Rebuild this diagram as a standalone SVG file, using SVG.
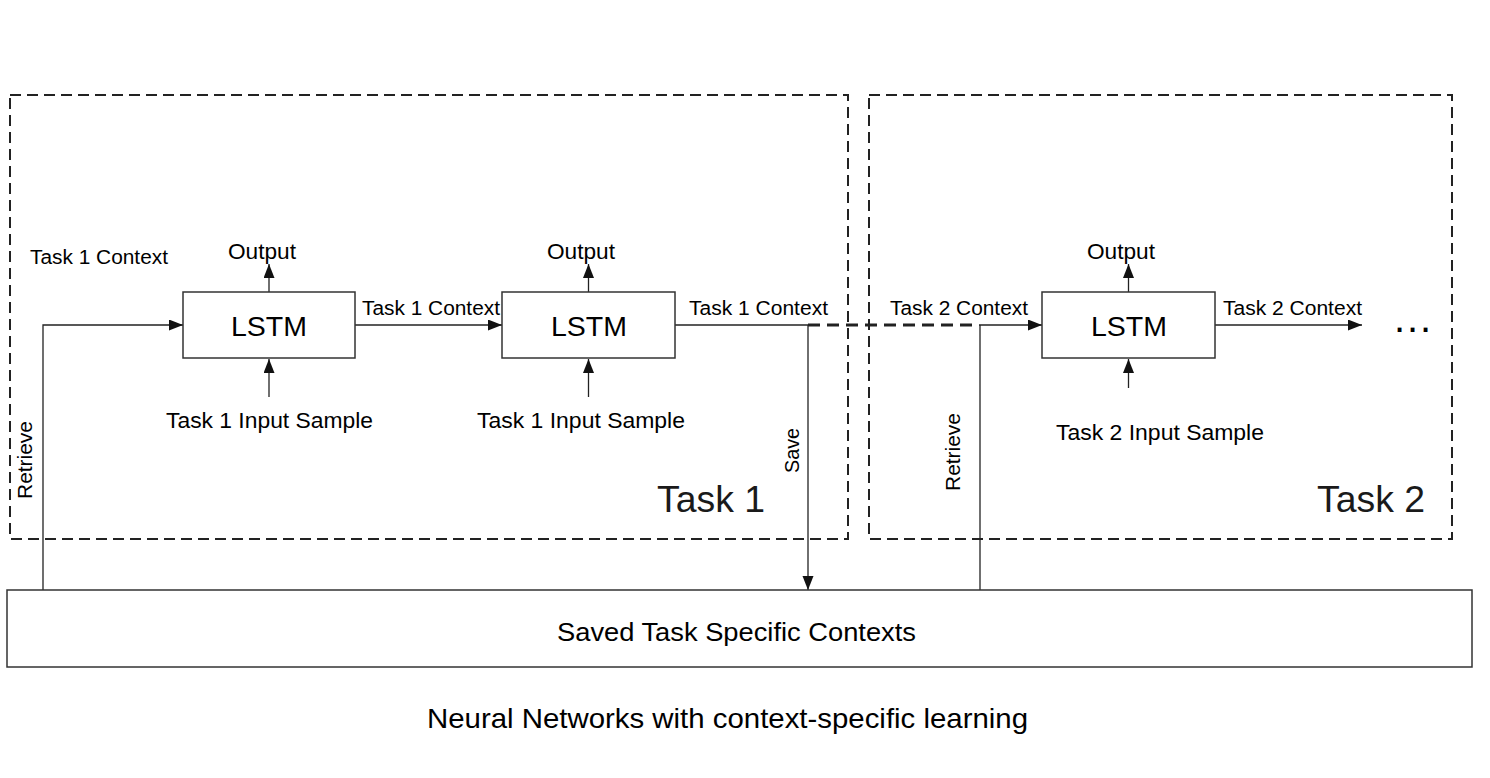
<svg xmlns="http://www.w3.org/2000/svg" width="1490" height="778" viewBox="0 0 1490 778">
<style>
  .t { font-family: "Liberation Sans", Arial, sans-serif; fill: #000; }
  .big { font-family: "Liberation Sans", Arial, sans-serif; fill: #1a1a1a; font-size: 37px; }
  .group { fill: none; stroke: #222; stroke-width: 2; stroke-dasharray: 11 6; }
  .node { fill: #fff; stroke: #333; stroke-width: 1.5; }
  .c { fill: none; stroke: #222; stroke-width: 1.3; }
  .cd { fill: none; stroke: #222; stroke-width: 3.2; stroke-dasharray: 12 7; }
</style>
<defs>
  <marker id="arr" markerUnits="userSpaceOnUse" markerWidth="16" markerHeight="12" refX="14" refY="5.5" orient="auto">
    <path d="M0,0 L14,5.5 L0,11 z" fill="#111"/>
  </marker>
</defs>
<rect width="1490" height="778" fill="#fff"/>

<g id="task1-group">
  <rect class="group" x="10" y="95" width="838" height="444"/>
  <text class="big" x="657" y="512" textLength="108" lengthAdjust="spacingAndGlyphs">Task 1</text>
</g>
<g id="task2-group">
  <rect class="group" x="869" y="95" width="583" height="444"/>
  <text class="big" x="1317" y="512" textLength="108" lengthAdjust="spacingAndGlyphs">Task 2</text>
</g>

<g id="connectors">
  <path class="c" d="M43,590 V325 H183" marker-end="url(#arr)"/>
  <path class="c" d="M355,325 H502" marker-end="url(#arr)"/>
  <path class="c" d="M675,325 H808"/>
  <path class="cd" d="M808,325 H979"/>
  <path class="c" d="M979,325 H1042" marker-end="url(#arr)"/>
  <path class="c" d="M808,325 V590" marker-end="url(#arr)"/>
  <path class="c" d="M980,590 V325"/>
  <path class="c" d="M1215,325 H1362" marker-end="url(#arr)"/>
  <path class="c" d="M269,292 V264" marker-end="url(#arr)"/>
  <path class="c" d="M588.5,292 V264" marker-end="url(#arr)"/>
  <path class="c" d="M1128.5,292 V264" marker-end="url(#arr)"/>
  <path class="c" d="M269,397 V359" marker-end="url(#arr)"/>
  <path class="c" d="M588.5,397 V359" marker-end="url(#arr)"/>
  <path class="c" d="M1128.5,388 V359" marker-end="url(#arr)"/>
</g>

<g id="labels">
  <text class="t" x="30" y="264" font-size="20" textLength="138" lengthAdjust="spacingAndGlyphs">Task 1 Context</text>
  <text class="t" x="362" y="315" font-size="20" textLength="138" lengthAdjust="spacingAndGlyphs">Task 1 Context</text>
  <text class="t" x="689" y="315" font-size="20" textLength="139" lengthAdjust="spacingAndGlyphs">Task 1 Context</text>
  <text class="t" x="890" y="315" font-size="20" textLength="138" lengthAdjust="spacingAndGlyphs">Task 2 Context</text>
  <text class="t" x="1223" y="315" font-size="20" textLength="139" lengthAdjust="spacingAndGlyphs">Task 2 Context</text>
  <text class="t" x="228" y="259" font-size="22.5" textLength="68" lengthAdjust="spacingAndGlyphs">Output</text>
  <text class="t" x="547" y="259" font-size="22.5" textLength="68" lengthAdjust="spacingAndGlyphs">Output</text>
  <text class="t" x="1087" y="259" font-size="22.5" textLength="68" lengthAdjust="spacingAndGlyphs">Output</text>
  <text class="t" x="166" y="428" font-size="21.5" textLength="207" lengthAdjust="spacingAndGlyphs">Task 1 Input Sample</text>
  <text class="t" x="477" y="428" font-size="21.5" textLength="208" lengthAdjust="spacingAndGlyphs">Task 1 Input Sample</text>
  <text class="t" x="1056" y="440" font-size="21.5" textLength="208" lengthAdjust="spacingAndGlyphs">Task 2 Input Sample</text>
  <text class="t" transform="translate(32,499) rotate(-90)" font-size="20" textLength="78" lengthAdjust="spacingAndGlyphs">Retrieve</text>
  <text class="t" transform="translate(799,473) rotate(-90)" font-size="20" textLength="45" lengthAdjust="spacingAndGlyphs">Save</text>
  <text class="t" transform="translate(960,491) rotate(-90)" font-size="20" textLength="78" lengthAdjust="spacingAndGlyphs">Retrieve</text>
  <text class="t" x="1394" y="332" font-size="40" textLength="37" lengthAdjust="spacing">...</text>
</g>

<g id="lstm1">
  <rect class="node" x="183" y="292" width="172" height="66"/>
  <text class="t" x="269" y="336" font-size="28.5" text-anchor="middle">LSTM</text>
</g>
<g id="lstm2">
  <rect class="node" x="502" y="292" width="173" height="66"/>
  <text class="t" x="589" y="336" font-size="28.5" text-anchor="middle">LSTM</text>
</g>
<g id="lstm3">
  <rect class="node" x="1042" y="292" width="173" height="66"/>
  <text class="t" x="1129" y="336" font-size="28.5" text-anchor="middle">LSTM</text>
</g>

<g id="saved-contexts">
  <rect class="node" x="7" y="590" width="1465" height="77"/>
  <text class="t" x="557" y="641" font-size="25.5" textLength="359" lengthAdjust="spacingAndGlyphs" fill="#1a1a1a">Saved Task Specific Contexts</text>
</g>

<g id="caption">
  <text class="t" x="427" y="728" font-size="28.5" textLength="601" lengthAdjust="spacingAndGlyphs" fill="#1a1a1a">Neural Networks with context-specific learning</text>
</g>
</svg>
